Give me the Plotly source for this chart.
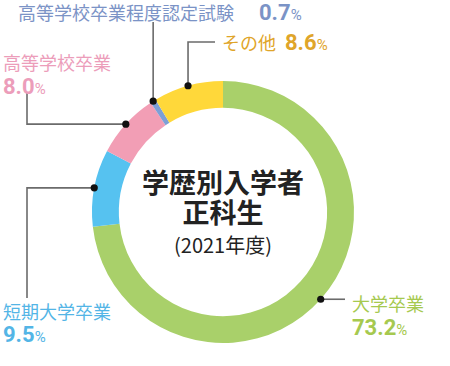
import math
import plotly.graph_objects as go

# ---- data ----
categories = ["大学卒業", "短期大学卒業", "高等学校卒業", "高等学校卒業程度認定試験", "その他"]
values = [73.2, 9.5, 8.0, 0.7, 8.6]
slice_colors = ["#A9D06A", "#56C2F0", "#F29EB5", "#7D9FD6", "#FFD83A"]
label_colors = ["#A6C94F", "#53B5E6", "#EC9DBA", "#7B93C6", "#DFA52A"]
center_lines = ["学歴別入学者", "正科生", "(2021年度)"]

W, H = 450, 366
CX, CY, R = 223, 212, 131  # donut centre / outer radius in px

def px(x):
    return x / W

def py(y):
    return 1 - y / H

dom_x = [px(CX - R), px(CX + R)]
dom_y = [py(CY + R), py(CY - R)]

fig = go.Figure(go.Pie(
    labels=categories, values=values, sort=False, direction="clockwise",
    rotation=0, hole=0.795, marker=dict(colors=slice_colors, line=dict(width=0)),
    textinfo="none", hoverinfo="skip", showlegend=False,
    domain=dict(x=dom_x, y=dom_y),
))

# dot positions: slice mid-angle on outer edge
total = sum(values)
dots = []
cum = 0
for v in values:
    mid = (cum + v / 2) / total * 2 * math.pi
    cum += v
    dots.append((CX + R * math.sin(mid), CY - R * math.cos(mid)))

# leader line paths (elbow points are layout positions)
paths = [
    [dots[0], (345, dots[0][1])],
    [dots[1], (27, dots[1][1]), (27, 298)],
    [dots[2], (27, dots[2][1]), (27, 93)],
    [dots[3], (dots[3][0], 22)],
    [dots[4], (dots[4][0], 42), (215, 42)],
]
shapes = []
for p in paths:
    d = "M " + " L ".join(f"{px(x)},{py(y)}" for x, y in p)
    shapes.append(dict(type="path", path=d, xref="paper", yref="paper",
                       line=dict(color="#6B6B6B", width=1.6)))
for x, y in dots:
    r = 3.6
    shapes.append(dict(type="circle", xref="paper", yref="paper",
                       x0=px(x - r), x1=px(x + r), y0=py(y + r), y1=py(y - r),
                       fillcolor="#111111", line=dict(width=0)))

JP = "Noto Sans CJK JP"
anns = []

def add(text, x, y, size, color, bold=False, anchor="left", family=JP):
    anns.append(dict(text=text, x=px(x), y=py(y), xref="paper", yref="paper",
                     xanchor=anchor, yanchor="middle", showarrow=False,
                     font=dict(family=family, size=size, color=color,
                               weight=700 if bold else 400)))

def pct(v):
    return f"<b>{v}</b><span style='font-size:15px'>%</span>"

# label positions (px)
name_pos = [(350, 303), (1, 311), (1, 62), (16, 12), (220, 42)]
val_pos = [(350, 327), (1, 334), (1, 86), (257, 12), (283, 42)]
for i, c in enumerate(categories):
    add(c, name_pos[i][0], name_pos[i][1], 18, label_colors[i])
    add(pct(values[i]), val_pos[i][0], val_pos[i][1], 22, label_colors[i], family="Roboto")

centre_text = (f"<span style='font-size:27px'><b>{center_lines[0]}</b></span><br>"
               f"<span style='font-size:27px'><b>{center_lines[1]}</b></span><br>"
               f"<span style='font-size:20px'>{center_lines[2]}</span>")
add(centre_text, CX, 210, 23, "#222222", anchor="center")

fig.update_layout(width=W, height=H, margin=dict(l=0, r=0, t=0, b=0),
                  paper_bgcolor="white", plot_bgcolor="white",
                  shapes=shapes, annotations=anns)
# remove the browser's default 8px body margin so the figure fills the window
fig.write_html("out.html", config={"displayModeBar": False},
               post_script="document.body.style.margin='0';")
